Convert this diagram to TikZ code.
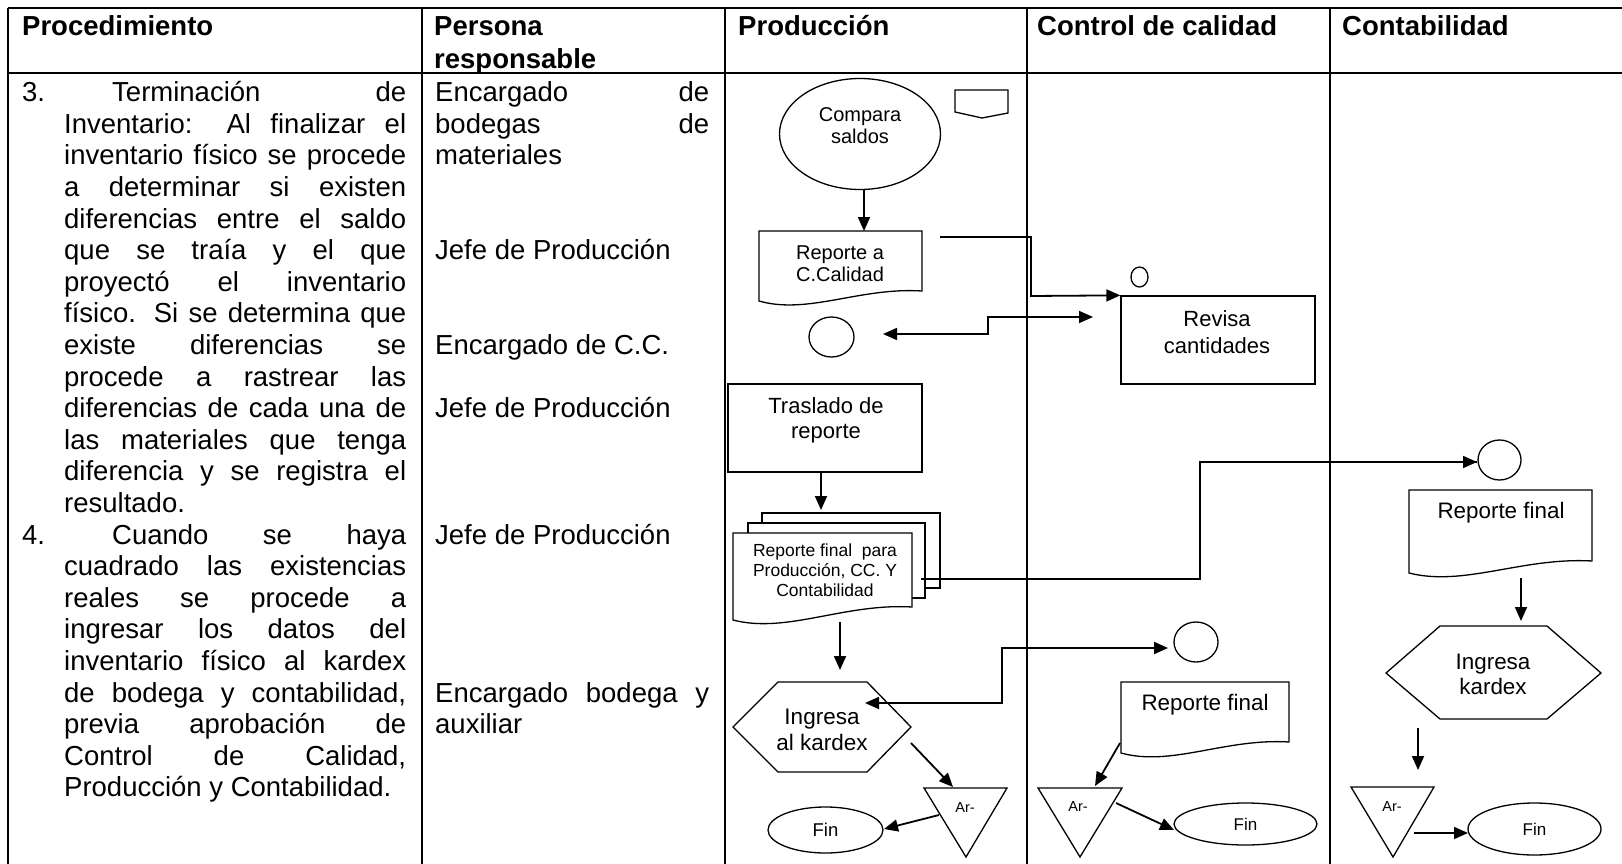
\documentclass[tikz,border=0pt]{standalone}
\usepackage{fontspec}
\setmainfont{Liberation Sans}
\usetikzlibrary{arrows.meta,shapes.geometric,calc}
\tikzset{
  tbl/.style={line width=2.4pt},
  shp/.style={draw, line width=1.3pt},
  conn/.style={line width=1.8pt},
  arr/.style={conn, -{Triangle[length=14pt,width=12pt]}},
  darr/.style={conn, {Triangle[length=14pt,width=12pt]}-{Triangle[length=14pt,width=12pt]}},
  body/.style={inner sep=0pt, anchor=base west, font=\fontsize{27.5}{31.6}\selectfont},
  head/.style={inner sep=0pt, anchor=base west, font=\fontsize{27.5}{31.6}\selectfont\bfseries},
  lbl/.style={inner sep=0pt, align=center},
  oval/.style={shp, ellipse, inner sep=0pt},
}
\newcommand\docshape[5]{% L T R Br Bl
  \draw[shp, fill=white] (#1,#2) -- (#3,#2) -- (#3,#4) .. controls ({#1+0.62*(#3-#1)},{#4-4}) and ({#1+0.3*(#3-#1)},{#5+14}) .. (#1,#5) -- cycle;}
\newcommand\pline[3]{\node[body] (#1) at (64,{101.7+31.6*(#2-1)}) {\makebox[342pt][s]{#3}};}
\newcommand\plast[3]{\node[body] (#1) at (64,{101.7+31.6*(#2-1)}) {#3};}
\newcommand\rline[3]{\node[body] (#1) at (435,{101.7+31.6*(#2-1)}) {\makebox[274pt][s]{#3}};}
\newcommand\rlast[3]{\node[body] (#1) at (435,{101.7+31.6*(#2-1)}) {#3};}
\begin{document}
\begin{tikzpicture}[x=1pt,y=-1pt]
\useasboundingbox (0,0) rectangle (1622,864);
% table
\draw[tbl] (8,8) -- (1622,8);
\draw[tbl] (8,73) -- (1622,73);
\foreach \x in {8,422,725,1027,1330} \draw[tbl] (\x,8) -- (\x,864);
% headers
\node[head] (hProc) at (22,36) {Procedimiento};
\node[head] (hPers1) at (434,36) {Persona};
\node[head] (hPers2) at (434,69) {responsable};
\node[head] (hProd) at (738,36) {Producción};
\node[head] (hCC) at (1037,36) {Control de calidad};
\node[head] (hCont) at (1342,36) {Contabilidad};
% procedure column
\node[body] (n3) at (22,101.7) {3.};
\pline{p1}{1}{\hspace*{48pt}Terminación\hfill de}
\pline{p2}{2}{Inventario: Al finalizar el}
\pline{p3}{3}{inventario físico se procede}
\pline{p4}{4}{a determinar si existen}
\pline{p5}{5}{diferencias entre el saldo}
\pline{p6}{6}{que se traía y el que}
\pline{p7}{7}{proyectó el inventario}
\pline{p8}{8}{físico. Si se determina que}
\pline{p9}{9}{existe diferencias se}
\pline{p10}{10}{procede a rastrear las}
\pline{p11}{11}{diferencias de cada una de}
\pline{p12}{12}{las materiales que tenga}
\pline{p13}{13}{diferencia y se registra el}
\plast{p14}{14}{resultado.}
\node[body] (n4) at (22,{101.7+31.6*14}) {4.};
\pline{p15}{15}{\hspace*{48pt}Cuando se haya}
\pline{p16}{16}{cuadrado las existencias}
\pline{p17}{17}{reales se procede a}
\pline{p18}{18}{ingresar los datos del}
\pline{p19}{19}{inventario físico al kardex}
\pline{p20}{20}{de bodega y contabilidad,}
\pline{p21}{21}{previa aprobación de}
\pline{p22}{22}{Control de Calidad,}
\plast{p23}{23}{Producción y Contabilidad.}
% persona column
\rline{r1}{1}{Encargado de}
\rline{r2}{2}{bodegas de}
\rlast{r3}{3}{materiales}
\rlast{r6}{6}{Jefe de Producción}
\rlast{r9}{9}{Encargado de C.C.}
\rlast{r11}{11}{Jefe de Producción}
\rlast{r15}{15}{Jefe de Producción}
\rline{r20}{20}{Encargado bodega y}
\rlast{r21}{21}{auxiliar}
% ---------- Produccion ----------
\node[oval, minimum width=161pt, minimum height=111pt] (cmpS) at (860,134) {};
\node[lbl, font=\fontsize{20}{22}\selectfont] (cmp) at (860,126) {Compara\\saldos};
\draw[shp] (955,90) -- (1008,90) -- (1008,113) -- (982,118) -- (955,112) -- cycle;
\docshape{759}{231}{922}{291}{301}
\node[lbl, font=\fontsize{20}{22}\selectfont] (rep1) at (840,264) {Reporte a\\C.Calidad};
\node[oval, minimum width=45pt, minimum height=40pt] (c1) at (831.5,337) {};
\node[shp, rectangle, minimum width=194pt, minimum height=88pt, inner sep=0pt] (trS) at (825,428) {};
\node[lbl, font=\fontsize{22}{25}\selectfont] (tr) at (826,420) {Traslado de\\reporte};
\draw[shp, fill=white] (762,513) rectangle (940,588);
\draw[shp, fill=white] (748,523) rectangle (925,598);
\docshape{733}{533}{912}{607}{620}
\node[lbl, font=\fontsize{17.5}{20}\selectfont] (md) at (825,570) {Reporte final~ para\\Producción, CC. Y\\Contabilidad};
\draw[shp] (778,682) -- (867,682) -- (911,727) -- (867,772) -- (778,772) -- (733,727) -- cycle;
\node[lbl, font=\fontsize{22.5}{26}\selectfont] (hex1) at (822,730) {Ingresa\\al kardex};
\draw[shp] (924,788) -- (1007,788) -- (966,857) -- cycle;
\node[lbl, font=\fontsize{14.5}{16}\selectfont] (t1) at (965,808) {Ar-};
\node[oval, minimum width=115pt, minimum height=46pt, font=\fontsize{18.5}{20}\selectfont] (fin1) at (825.5,830) {Fin};
% ---------- Control de calidad ----------
\node[shp, rectangle, minimum width=194pt, minimum height=88pt, inner sep=0pt] (revS) at (1218,340) {};
\node[lbl, font=\fontsize{22}{26.5}\selectfont] (rev) at (1217,332) {Revisa\\cantidades};
\node[oval, minimum width=17pt, minimum height=20pt] (smallO) at (1139.5,277) {};
\node[oval, minimum width=44pt, minimum height=40pt] (c2) at (1196,642) {};
\docshape{1121}{682}{1289}{742}{753}
\node[lbl, font=\fontsize{22.4}{26}\selectfont] (rf2) at (1205,705) {Reporte final};
\draw[shp] (1038,788) -- (1122,788) -- (1080,857) -- cycle;
\node[lbl, font=\fontsize{14.5}{16}\selectfont] (t2) at (1078,807) {Ar-};
\node[oval, minimum width=143pt, minimum height=42pt, font=\fontsize{17}{19}\selectfont] (fin2) at (1245.5,824) {Fin};
% ---------- Contabilidad ----------
\node[oval, minimum width=43pt, minimum height=40pt] (c3) at (1499.5,460) {};
\docshape{1409}{490}{1592}{561}{573}
\node[lbl, font=\fontsize{22.4}{26}\selectfont] (rf3) at (1501,513) {Reporte final};
\draw[shp] (1440,626) -- (1547,626) -- (1601,673) -- (1547,719) -- (1440,719) -- (1386,673) -- cycle;
\node[lbl, font=\fontsize{22.4}{25}\selectfont] (hex2) at (1493,674.5) {Ingresa\\kardex};
\draw[shp] (1351,787) -- (1434,787) -- (1393,857) -- cycle;
\node[lbl, font=\fontsize{14.5}{16}\selectfont] (t3) at (1392,807) {Ar-};
\node[oval, minimum width=133pt, minimum height=52pt, font=\fontsize{17}{19}\selectfont] (fin3) at (1534.5,829) {Fin};
% ---------- connectors ----------
\coordinate (aS) at (864,189); \coordinate (aE) at (864,231);
\draw[arr] (aS) -- (aE);
\coordinate (bS) at (940,237);
\draw[arr] (bS) -| (1031,296) -- (revS.north west);
\coordinate (cL) at (883,334); \coordinate (cR) at (1093,317);
\draw[darr] (cL) -| (988,325) |- (cR);
\coordinate (dS) at (821,472); \coordinate (dE) at (821,510);
\draw[arr] (dS) -- (dE);
\coordinate (eS) at (921,579); \coordinate (eE) at (1477,462);
\draw[conn] (eS) -| (1200,520) |- (eE);
\draw[arr] ($(eE)+(-20,0)$) -- (eE);
\coordinate (fS) at (840,622); \coordinate (fE) at (840,670);
\draw[arr] (fS) -- (fE);
\coordinate (gL) at (865,703); \coordinate (gR) at (1168,648);
\draw[darr] (gL) -| (1002,675) |- (gR);
\coordinate (hS) at (911,743); \coordinate (hE) at (953,787);
\draw[arr] (hS) -- (hE);
\coordinate (iS) at (939,815); \coordinate (iE) at (884,829);
\draw[arr] (iS) -- (iE);
\coordinate (jS) at (1120,743); \coordinate (jE) at (1095,786);
\draw[arr] (jS) -- (jE);
\coordinate (kS) at (1116,803); \coordinate (kE) at (1174,830);
\draw[arr] (kS) -- (kE);
\coordinate (lS) at (1521,578); \coordinate (lE) at (1521,621);
\draw[arr] (lS) -- (lE);
\coordinate (mS) at (1418,728); \coordinate (mE) at (1418,770);
\draw[arr] (mS) -- (mE);
\coordinate (nS) at (1414,833); \coordinate (nE) at (1468,833);
\draw[arr] (nS) -- (nE);
\end{tikzpicture}
\end{document}
